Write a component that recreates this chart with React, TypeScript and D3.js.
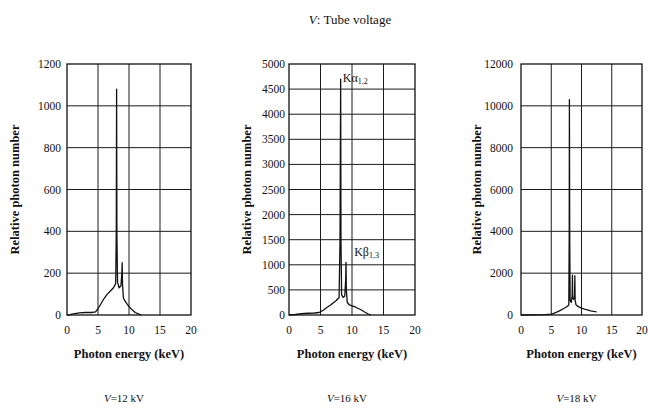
import React from "react";
import * as d3 from "d3";

// x-ray spectra of a Cu tube at three tube voltages
const titleText = ": Tube voltage";
const voltageLabels = ["=12 kV", "=16 kV", "=18 kV"];
const xTicks = [0, 5, 10, 15, 20];

const yTicks12 = [0, 200, 400, 600, 800, 1000, 1200];
const yTicks16 = [0, 500, 1000, 1500, 2000, 2500, 3000, 3500, 4000, 4500, 5000];
const yTicks18 = [0, 2000, 4000, 6000, 8000, 10000, 12000];

const energy12 = [0, 0.5, 1, 1.5, 2, 3, 4, 4.6, 5, 5.5, 6, 6.5, 7, 7.5, 7.85, 7.95, 8.0, 8.05, 8.15, 8.4, 8.7, 8.85, 8.9, 8.95, 9.1, 9.5, 10, 10.5, 11, 11.5, 12];
const counts12 = [0, 2, 5, 8, 10, 12, 12, 15, 30, 55, 80, 100, 115, 130, 150, 400, 1080, 380, 160, 130, 140, 200, 250, 150, 80, 60, 40, 25, 12, 5, 0];

const energy16 = [0, 1, 2, 3, 4, 4.8, 5.5, 6, 6.5, 7, 7.5, 7.95, 8.1, 8.2, 8.25, 8.35, 8.6, 8.85, 9.0, 9.05, 9.1, 9.25, 9.6, 10, 10.5, 11, 11.5, 12, 12.5, 13];
const counts16 = [0, 10, 25, 35, 40, 50, 100, 150, 190, 240, 290, 350, 1500, 4700, 1500, 400, 350, 380, 700, 1050, 500, 250, 200, 180, 160, 130, 100, 60, 25, 0];

const energy18 = [0, 2, 4, 5, 5.5, 6, 6.5, 7, 7.5, 7.9, 7.97, 8.0, 8.05, 8.12, 8.3, 8.45, 8.5, 8.55, 8.7, 8.85, 8.9, 8.95, 9.1, 9.5, 10, 10.5, 11, 11.5, 12, 12.5];
const counts18 = [0, 10, 20, 40, 90, 150, 220, 300, 380, 480, 3800, 10300, 3800, 700, 600, 900, 1900, 800, 750, 900, 1880, 700, 480, 400, 330, 280, 240, 200, 170, 150];

// line annotations on the 16 kV panel: [energy, counts]
const kAlphaAt = [8.55, 4640];
const kBetaAt = [10.35, 1180];

const panels = [
  { energy: energy12, counts: counts12, yTicks: yTicks12, left: 67, right: 191, titleX: 16, tickPad: 6 },
  { energy: energy16, counts: counts16, yTicks: yTicks16, left: 289, right: 415, titleX: 248, tickPad: 4 },
  { energy: energy18, counts: counts18, yTicks: yTicks18, left: 521, right: 642, titleX: 478, tickPad: 8 },
];

const top = 64;
const bottom = 315;
const serif = "'Liberation Serif', 'DejaVu Serif', serif";

function Panel({ p, idx }: { p: (typeof panels)[number]; idx: number }) {
  const x = d3.scaleLinear().domain([0, 20]).range([p.left, p.right]);
  const yMax = p.yTicks[p.yTicks.length - 1];
  const y = d3.scaleLinear().domain([0, yMax]).range([bottom, top]);
  const line = d3
    .line<number>()
    .x((_, i) => x(p.energy[i]))
    .y((d) => y(d));
  const cx = (p.left + p.right) / 2;

  return (
    <g>
      {/* grid */}
      {p.yTicks.slice(1, -1).map((t) => (
        <line key={"gy" + t} x1={p.left} x2={p.right} y1={y(t)} y2={y(t)} stroke="#1a1a1a" strokeWidth={1} />
      ))}
      {xTicks.slice(1, -1).map((t) => (
        <line key={"gx" + t} x1={x(t)} x2={x(t)} y1={top} y2={bottom} stroke="#1a1a1a" strokeWidth={1} />
      ))}
      <rect x={p.left} y={top} width={p.right - p.left} height={bottom - top} fill="none" stroke="#111" strokeWidth={1.3} />

      <path d={line(p.counts) || ""} fill="none" stroke="#111" strokeWidth={1.3} strokeLinejoin="round" />

      {/* tick labels */}
      {p.yTicks.map((t) => (
        <text key={"ty" + t} x={p.left - p.tickPad} y={y(t) + 4} textAnchor="end" fontSize={11.5} fontFamily={serif} fill="#111">
          {t}
        </text>
      ))}
      {xTicks.map((t) => (
        <text key={"tx" + t} x={x(t)} y={334} textAnchor="middle" fontSize={11.5} fontFamily={serif} fill="#111">
          {t}
        </text>
      ))}

      <text
        transform={`translate(${p.titleX},${(top + bottom) / 2}) rotate(-90)`}
        textAnchor="middle"
        dominantBaseline="middle"
        fontSize={12.5}
        fontWeight="bold"
        fontFamily={serif}
        fill="#111"
      >
        Relative photon number
      </text>
      <text x={cx} y={358} textAnchor="middle" fontSize={12.5} fontWeight="bold" fontFamily={serif} fill="#111">
        Photon energy (keV)
      </text>
      <text x={cx - 5} y={402} textAnchor="middle" fontSize={11} fontFamily={serif} fill="#111">
        <tspan fontStyle="italic">V</tspan>
        {voltageLabels[idx]}
      </text>

      {idx === 1 && (
        <g fontFamily={serif} fill="#111">
          <text x={x(kAlphaAt[0])} y={y(kAlphaAt[1])} fontSize={12}>
            Kα<tspan fontSize={8} dy={2}>1,2</tspan>
          </text>
          <text x={x(kBetaAt[0])} y={y(kBetaAt[1])} fontSize={12}>
            Kβ<tspan fontSize={8} dy={2}>1,3</tspan>
          </text>
        </g>
      )}
    </g>
  );
}

export default function App() {
  return (
    <svg width={648} height={410} style={{ position: "absolute", left: 0, top: 0, background: "#fff" }}>
      <rect width={648} height={410} fill="#fff" />
      <text x={350} y={24} textAnchor="middle" fontSize={13} fontFamily={serif} fill="#111">
        <tspan fontStyle="italic">V</tspan>
        {titleText}
      </text>
      {panels.map((p, i) => (
        <Panel key={i} p={p} idx={i} />
      ))}
    </svg>
  );
}
